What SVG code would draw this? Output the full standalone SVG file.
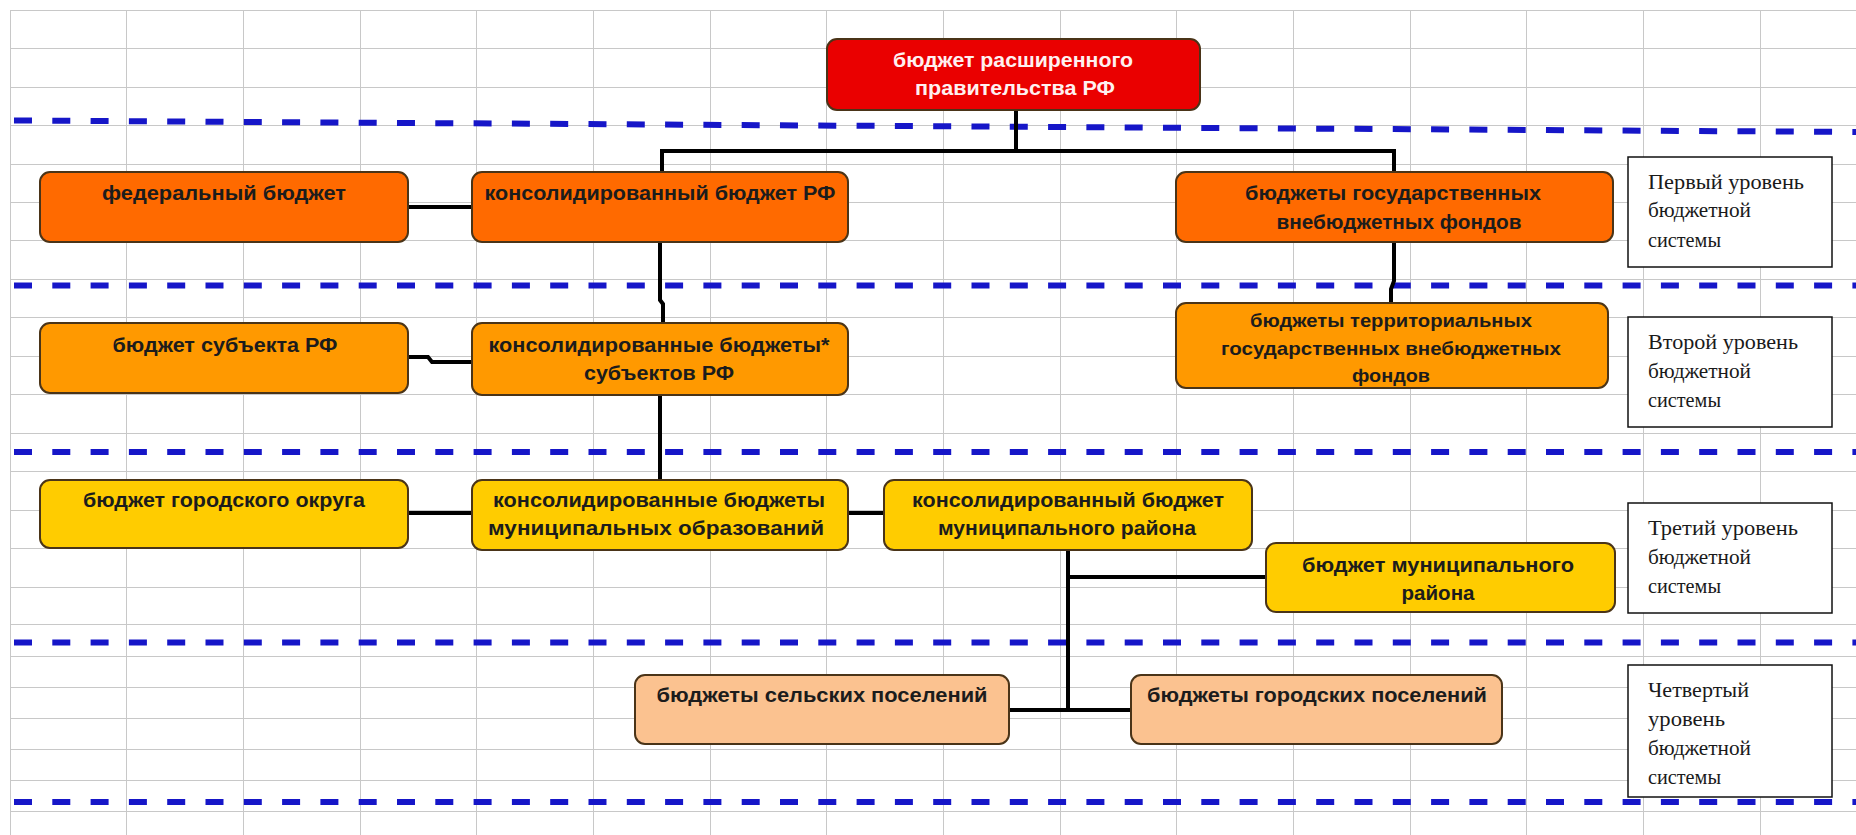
<svg xmlns="http://www.w3.org/2000/svg" width="1856" height="835" viewBox="0 0 1856 835">
  <defs>
    <style>
      .grid line { stroke: #c8c8c8; stroke-width: 1; shape-rendering: crispEdges; }
      .lvl { stroke: #1616c8; stroke-width: 6; stroke-dasharray: 18 20.3; fill: none; }
      .conn path { stroke: #000; stroke-width: 4; fill: none; stroke-linejoin: miter; }
      .box { stroke: #4a3418; stroke-width: 2; }
      .red { fill: #ea0000; }
      .l1 { fill: #ff6a00; }
      .l2 { fill: #ff9900; }
      .l3 { fill: #ffcc00; }
      .l4 { fill: #fbc290; }
      .t { font-family: "Liberation Sans", Arial, sans-serif; font-weight: bold; font-size: 21px; fill: #1c1c1c; text-anchor: middle; }
      .tw { fill: #fff0f0; }
      .ts { font-size: 19px; }
      .lab rect { fill: #fff; stroke: #111; stroke-width: 1.5; }
      .lt { font-family: "Liberation Serif", "Times New Roman", serif; font-size: 20px; fill: #1a1a1a; }
    </style>
  </defs>

  <rect x="0" y="0" width="1856" height="835" fill="#fff"/>

  <!-- spreadsheet grid -->
  <g class="grid">
    <line x1="10.5" y1="10" x2="10.5" y2="835"/>
    <line x1="126.5" y1="10" x2="126.5" y2="835"/>
    <line x1="243.5" y1="10" x2="243.5" y2="835"/>
    <line x1="360.5" y1="10" x2="360.5" y2="835"/>
    <line x1="476.5" y1="10" x2="476.5" y2="835"/>
    <line x1="593.5" y1="10" x2="593.5" y2="835"/>
    <line x1="710.5" y1="10" x2="710.5" y2="835"/>
    <line x1="826.5" y1="10" x2="826.5" y2="835"/>
    <line x1="943.5" y1="10" x2="943.5" y2="835"/>
    <line x1="1060.5" y1="10" x2="1060.5" y2="835"/>
    <line x1="1176.5" y1="10" x2="1176.5" y2="835"/>
    <line x1="1293.5" y1="10" x2="1293.5" y2="835"/>
    <line x1="1410.5" y1="10" x2="1410.5" y2="835"/>
    <line x1="1526.5" y1="10" x2="1526.5" y2="835"/>
    <line x1="1643.5" y1="10" x2="1643.5" y2="835"/>
    <line x1="1760.5" y1="10" x2="1760.5" y2="835"/>

    <line x1="10" y1="10.5" x2="1856" y2="10.5"/>
    <line x1="10" y1="48.5" x2="1856" y2="48.5"/>
    <line x1="10" y1="87.5" x2="1856" y2="87.5"/>
    <line x1="10" y1="125.5" x2="1856" y2="125.5"/>
    <line x1="10" y1="164.5" x2="1856" y2="164.5"/>
    <line x1="10" y1="202.5" x2="1856" y2="202.5"/>
    <line x1="10" y1="240.5" x2="1856" y2="240.5"/>
    <line x1="10" y1="279.5" x2="1856" y2="279.5"/>
    <line x1="10" y1="317.5" x2="1856" y2="317.5"/>
    <line x1="10" y1="356.5" x2="1856" y2="356.5"/>
    <line x1="10" y1="394.5" x2="1856" y2="394.5"/>
    <line x1="10" y1="433.5" x2="1856" y2="433.5"/>
    <line x1="10" y1="471.5" x2="1856" y2="471.5"/>
    <line x1="10" y1="510.5" x2="1856" y2="510.5"/>
    <line x1="10" y1="548.5" x2="1856" y2="548.5"/>
    <line x1="10" y1="587.5" x2="1856" y2="587.5"/>
    <line x1="10" y1="624.5" x2="1856" y2="624.5"/>
    <line x1="10" y1="656.5" x2="1856" y2="656.5"/>
    <line x1="10" y1="687.5" x2="1856" y2="687.5"/>
    <line x1="10" y1="718.5" x2="1856" y2="718.5"/>
    <line x1="10" y1="749.5" x2="1856" y2="749.5"/>
    <line x1="10" y1="780.5" x2="1856" y2="780.5"/>
    <line x1="10" y1="811.5" x2="1856" y2="811.5"/>
  </g>

  <!-- level separators -->
  <g id="levels">
    <line class="lvl" x1="14" y1="120.5" x2="1856" y2="132"/>
    <line class="lvl" x1="14" y1="285.5" x2="1856" y2="285.5"/>
    <line class="lvl" x1="14" y1="452" x2="1856" y2="452"/>
    <line class="lvl" x1="14" y1="642.5" x2="1856" y2="642.5"/>
    <line class="lvl" x1="14" y1="802" x2="1856" y2="802"/>
  </g>

  <!-- connectors -->
  <g id="connectors" class="conn">
    <path d="M1016,110 V151"/>
    <path d="M662,172 V151 H1394 V172"/>
    <path d="M408,207 H472"/>
    <path d="M660,242 V300 L663,304 V323"/>
    <path d="M1394,242 V281 L1391,289 V303"/>
    <path d="M408,357 H428 L432,362 H472"/>
    <path d="M660,395 V480"/>
    <path d="M408,513 H472"/>
    <path d="M848,513 H884"/>
    <path d="M1068,550 V710"/>
    <path d="M1068,577 H1266"/>
    <path d="M1009,710 H1131"/>
  </g>

  <!-- top: extended government -->
  <g id="n-extended">
    <rect class="box red" x="827" y="39" width="373" height="71" rx="10"/>
    <text class="t tw" x="1013" y="67" textLength="240" lengthAdjust="spacingAndGlyphs">бюджет расширенного</text>
    <text class="t tw" x="1015" y="95" textLength="200" lengthAdjust="spacingAndGlyphs">правительства РФ</text>
  </g>

  <!-- level 1 -->
  <g id="n-federal">
    <rect class="box l1" x="40" y="172" width="368" height="70" rx="10"/>
    <text class="t" x="224" y="200" textLength="244" lengthAdjust="spacingAndGlyphs">федеральный бюджет</text>
  </g>
  <g id="n-consolidated-rf">
    <rect class="box l1" x="472" y="172" width="376" height="70" rx="10"/>
    <text class="t" x="660" y="200" textLength="351" lengthAdjust="spacingAndGlyphs">консолидированный бюджет РФ</text>
  </g>
  <g id="n-state-funds">
    <rect class="box l1" x="1176" y="172" width="437" height="70" rx="10"/>
    <text class="t" x="1393" y="200" textLength="296" lengthAdjust="spacingAndGlyphs">бюджеты государственных</text>
    <text class="t" x="1399" y="229" textLength="245" lengthAdjust="spacingAndGlyphs">внебюджетных фондов</text>
  </g>

  <!-- level 2 -->
  <g id="n-subject">
    <rect class="box l2" x="40" y="323" width="368" height="70" rx="10"/>
    <text class="t" x="225" y="352" textLength="225" lengthAdjust="spacingAndGlyphs">бюджет субъекта РФ</text>
  </g>
  <g id="n-consolidated-subjects">
    <rect class="box l2" x="472" y="323" width="376" height="72" rx="10"/>
    <text class="t" x="659" y="352" textLength="341" lengthAdjust="spacingAndGlyphs">консолидированные бюджеты*</text>
    <text class="t" x="659" y="380" textLength="150" lengthAdjust="spacingAndGlyphs">субъектов РФ</text>
  </g>
  <g id="n-territorial-funds">
    <rect class="box l2" x="1176" y="303" width="432" height="85" rx="10"/>
    <text class="t ts" x="1391" y="327" textLength="282" lengthAdjust="spacingAndGlyphs">бюджеты территориальных</text>
    <text class="t ts" x="1391" y="355" textLength="340" lengthAdjust="spacingAndGlyphs">государственных внебюджетных</text>
    <text class="t ts" x="1391" y="382" textLength="78" lengthAdjust="spacingAndGlyphs">фондов</text>
  </g>

  <!-- level 3 -->
  <g id="n-city-district">
    <rect class="box l3" x="40" y="480" width="368" height="68" rx="10"/>
    <text class="t" x="224" y="507" textLength="282" lengthAdjust="spacingAndGlyphs">бюджет городского округа</text>
  </g>
  <g id="n-consolidated-municipal">
    <rect class="box l3" x="472" y="480" width="376" height="70" rx="10"/>
    <text class="t" x="659" y="507" textLength="332" lengthAdjust="spacingAndGlyphs">консолидированные бюджеты</text>
    <text class="t" x="656" y="535" textLength="336" lengthAdjust="spacingAndGlyphs">муниципальных образований</text>
  </g>
  <g id="n-consolidated-district">
    <rect class="box l3" x="884" y="480" width="368" height="70" rx="10"/>
    <text class="t" x="1068" y="507" textLength="312" lengthAdjust="spacingAndGlyphs">консолидированный бюджет</text>
    <text class="t" x="1067" y="535" textLength="258" lengthAdjust="spacingAndGlyphs">муниципального района</text>
  </g>
  <g id="n-district">
    <rect class="box l3" x="1266" y="543" width="349" height="69" rx="10"/>
    <text class="t" x="1438" y="572" textLength="272" lengthAdjust="spacingAndGlyphs">бюджет муниципального</text>
    <text class="t" x="1438" y="600" textLength="73" lengthAdjust="spacingAndGlyphs">района</text>
  </g>

  <!-- level 4 -->
  <g id="n-rural">
    <rect class="box l4" x="635" y="675" width="374" height="69" rx="10"/>
    <text class="t" x="822" y="702" textLength="331" lengthAdjust="spacingAndGlyphs">бюджеты сельских поселений</text>
  </g>
  <g id="n-urban">
    <rect class="box l4" x="1131" y="675" width="371" height="69" rx="10"/>
    <text class="t" x="1317" y="702" textLength="340" lengthAdjust="spacingAndGlyphs">бюджеты городских поселений</text>
  </g>

  <!-- level captions -->
  <g id="cap-1" class="lab">
    <rect x="1628" y="157" width="204" height="110"/>
    <text class="lt" x="1648" y="189" textLength="156" lengthAdjust="spacingAndGlyphs">Первый уровень</text>
    <text class="lt" x="1648" y="217" textLength="103" lengthAdjust="spacingAndGlyphs">бюджетной</text>
    <text class="lt" x="1648" y="247" textLength="73" lengthAdjust="spacingAndGlyphs">системы</text>
  </g>
  <g id="cap-2" class="lab">
    <rect x="1628" y="317" width="204" height="110"/>
    <text class="lt" x="1648" y="349" textLength="150" lengthAdjust="spacingAndGlyphs">Второй уровень</text>
    <text class="lt" x="1648" y="378" textLength="103" lengthAdjust="spacingAndGlyphs">бюджетной</text>
    <text class="lt" x="1648" y="407" textLength="73" lengthAdjust="spacingAndGlyphs">системы</text>
  </g>
  <g id="cap-3" class="lab">
    <rect x="1628" y="503" width="204" height="110"/>
    <text class="lt" x="1648" y="535" textLength="150" lengthAdjust="spacingAndGlyphs">Третий уровень</text>
    <text class="lt" x="1648" y="564" textLength="103" lengthAdjust="spacingAndGlyphs">бюджетной</text>
    <text class="lt" x="1648" y="593" textLength="73" lengthAdjust="spacingAndGlyphs">системы</text>
  </g>
  <g id="cap-4" class="lab">
    <rect x="1628" y="665" width="204" height="132"/>
    <text class="lt" x="1648" y="697" textLength="101" lengthAdjust="spacingAndGlyphs">Четвертый</text>
    <text class="lt" x="1648" y="726" textLength="77" lengthAdjust="spacingAndGlyphs">уровень</text>
    <text class="lt" x="1648" y="755" textLength="103" lengthAdjust="spacingAndGlyphs">бюджетной</text>
    <text class="lt" x="1648" y="784" textLength="73" lengthAdjust="spacingAndGlyphs">системы</text>
  </g>
</svg>
